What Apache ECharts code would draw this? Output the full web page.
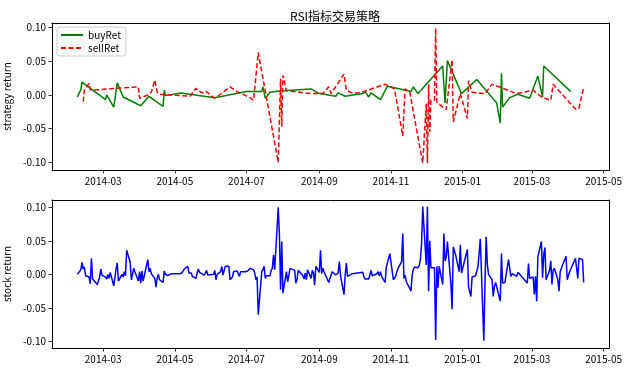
<!DOCTYPE html>
<html><head><meta charset="utf-8">
<script src="https://cdn.jsdelivr.net/npm/echarts@6/dist/echarts.min.js"></script>
<style>html,body{margin:0;padding:0;background:#fff}#c{width:628px;height:370px}</style>
</head><body><div id="c"></div>
<script>
// ---------------- data ----------------
const titleText = 'RSI指标交易策略';
const xTickLabels = ['2014-03','2014-05','2014-07','2014-09','2014-11','2015-01','2015-03','2015-05'];
const yTickLabels = [-0.10, -0.05, 0.00, 0.05, 0.10];

// trading calendar (Shanghai), first and last day + market holidays
const firstDay = '2014-02-07';
const lastDay = '2015-04-14';
const holidays = ['2014-04-07','2014-05-01','2014-05-02','2014-06-02','2014-09-08',
  '2014-10-01','2014-10-02','2014-10-03','2014-10-06','2014-10-07',
  '2015-01-01','2015-01-02','2015-02-18','2015-02-19','2015-02-20','2015-02-23','2015-02-24','2015-04-06'];

// daily stock return, one value per trading day (weeks on one line)
const stockRet = [
 0.000,
 0.007,0.018,0.008,0.011,-0.002,
 -0.004,-0.014,0.024,-0.007,-0.007,
 -0.015,-0.017,-0.004,0.008,-0.001,
 -0.004,-0.007,0.000,-0.006,0.003,
 -0.017,-0.005,0.008,0.017,-0.010,
 0.000,-0.004,0.004,-0.002,0.036,
 0.018,-0.008,0.000,0.009,0.004,
 -0.010,0.004,-0.013,0.005,-0.010,
 0.022,0.004,0.009,0.001,
 -0.006,-0.019,-0.005,0.000,-0.008,
 -0.012,0.005,0.000,0.002,-0.002,
 0.001,0.001,0.001,
 0.001,-0.001,0.002,0.005,0.008,
 0.012,0.002,0.004,0.002,-0.003,
 -0.006,0.002,0.008,0.003,0.004,
 -0.001,0.002,0.006,-0.001,0.001,
 0.000,0.006,-0.008,0.000,
 0.004,0.012,-0.001,0.006,0.012,
 0.012,-0.008,-0.007,-0.004,0.004,
 0.005,0.004,-0.003,0.004,0.004,
 0.004,0.002,0.005,0.004,0.009,
 0.007,0.002,-0.008,-0.004,-0.060,
 0.004,0.007,0.012,-0.006,-0.002,
 -0.002,0.006,0.009,0.029,0.007,
 0.100,0.060,-0.023,0.049,-0.028,
 0.004,-0.011,-0.002,0.009,0.008,
 0.006,-0.013,-0.008,0.006,0.006,
 -0.002,-0.007,0.002,-0.008,0.007,
 -0.006,0.006,0.002,-0.016,0.012,
 0.003,0.036,0.001,0.009,0.004,
 -0.012,-0.006,-0.001,0.004,
 -0.001,-0.002,0.002,0.019,-0.002,
 -0.030,-0.001,0.017,-0.003,-0.001,
 0.001,0.002,
 0.003,-0.004,-0.007,
 -0.007,-0.001,0.006,-0.002,-0.001,
 0.001,0.004,-0.002,0.004,-0.003,
 -0.012,0.011,0.013,0.024,0.031,
 -0.008,-0.006,-0.003,0.004,0.009,
 0.019,0.061,-0.006,-0.001,-0.011,
 -0.021,-0.025,-0.001,0.007,0.011,
 0.010,0.013,0.022,0.045,0.101,
 0.014,0.101,-0.025,0.050,0.010,
 0.010,-0.098,0.012,-0.020,0.012,
 -0.015,0.061,0.020,0.025,0.049,
 -0.015,-0.052,0.041,0.041,0.029,
 0.004,0.044,0.002,
 0.037,-0.019,-0.020,-0.033,-0.004,
 -0.002,-0.001,0.011,0.031,0.053,
 -0.099,-0.013,0.056,0.015,0.000,
 -0.008,-0.033,-0.018,-0.012,-0.010,
 -0.040,0.031,-0.013,-0.015,-0.012,
 0.022,0.010,-0.003,0.001,-0.001,
 -0.003,0.003,
 -0.013,0.016,-0.006,
 -0.004,-0.030,-0.003,-0.040,0.026,
 0.049,-0.005,0.030,0.040,-0.008,
 0.006,0.020,-0.015,0.006,0.009,
 -0.008,-0.025,0.004,0.004,0.014,
 0.027,-0.008,-0.008,0.004,0.003,
 0.024,0.024,-0.006,0.024,
 0.022,-0.012
];

const buyDates = ['2014-02-07','2014-02-10','2014-02-11','2014-03-03','2014-03-04','2014-03-10','2014-03-13','2014-03-18',
 '2014-04-02','2014-04-09','2014-04-21','2014-04-22','2014-04-23','2014-05-06','2014-06-04','2014-07-01','2014-07-14',
 '2014-07-15','2014-07-17','2014-07-21','2014-07-29','2014-08-25','2014-09-01','2014-09-05','2014-09-15','2014-09-17',
 '2014-09-23','2014-10-08','2014-10-10','2014-10-13','2014-10-15','2014-10-23','2014-10-29','2014-11-03','2014-11-18',
 '2014-11-20','2014-11-24','2014-12-15','2014-12-17','2014-12-19','2014-12-31','2015-01-13','2015-01-30','2015-02-02',
 '2015-02-03','2015-02-04','2015-02-10','2015-02-17','2015-02-27','2015-03-06','2015-03-10','2015-03-11','2015-04-03'];
const buyRet = [-0.003,0.008,0.019,-0.007,0.000,-0.018,0.018,-0.003,
 -0.016,-0.002,-0.017,0.007,-0.001,0.003,-0.004,0.005,0.005,
 0.012,-0.005,0.004,0.006,0.009,0.002,0.001,-0.002,0.003,
 -0.002,0.002,0.005,-0.003,0.003,-0.007,0.013,0.011,0.005,
 0.012,0.002,0.043,-0.012,0.051,0.002,0.023,-0.012,-0.042,
 0.032,-0.018,-0.004,0.001,-0.005,0.028,-0.003,0.043,0.005];

const sellDates = ['2014-02-12','2014-02-13','2014-02-17','2014-02-18','2014-02-20','2014-03-12','2014-03-31','2014-04-01',
 '2014-04-04','2014-04-08','2014-04-11','2014-04-14','2014-04-16','2014-04-18','2014-05-14','2014-05-19','2014-05-20',
 '2014-05-26','2014-05-28','2014-06-03','2014-06-05','2014-06-17','2014-06-23','2014-07-04','2014-07-07','2014-07-11',
 '2014-07-28','2014-07-30','2014-07-31','2014-08-01','2014-08-04','2014-08-26','2014-09-04','2014-09-09','2014-09-11',
 '2014-09-22','2014-09-24','2014-09-30','2014-10-09','2014-10-27','2014-11-04','2014-11-11','2014-11-13','2014-11-17',
 '2014-11-28','2014-12-01','2014-12-02','2014-12-03','2014-12-04','2014-12-05','2014-12-08','2014-12-09','2014-12-10',
 '2014-12-18','2014-12-23','2014-12-24','2014-12-30','2015-01-05','2015-01-06','2015-01-09','2015-01-20','2015-01-26',
 '2015-02-16','2015-03-02','2015-03-09','2015-03-17','2015-03-19','2015-04-07','2015-04-10','2015-04-14'];
const sellRet = [-0.010,0.007,0.017,0.008,0.007,0.010,0.012,-0.005,
 -0.003,0.000,0.004,0.022,0.004,0.001,-0.002,0.010,0.007,
 0.002,0.005,-0.004,-0.004,0.012,0.005,-0.004,-0.008,0.063,
 -0.100,0.024,-0.047,0.029,0.006,0.002,0.002,0.012,0.002,
 0.031,0.007,0.002,0.005,0.016,0.009,-0.061,0.009,0.004,
 -0.101,-0.013,-0.101,0.016,-0.055,-0.008,-0.008,0.099,-0.011,
 -0.022,0.052,-0.040,0.002,-0.035,0.021,0.004,0.002,0.016,
 0.002,0.007,-0.003,-0.008,0.016,-0.021,-0.020,0.012];

// ---------------- build ----------------
function parseD(s){const p=s.split('-');return new Date(+p[0],+p[1]-1,+p[2]).getTime();}
function fmt(t){const d=new Date(t);return d.getFullYear()+'-'+String(d.getMonth()+1).padStart(2,'0')+'-'+String(d.getDate()).padStart(2,'0');}
const hol = new Set(holidays);
const tradeDays = [];
for(let t=parseD(firstDay); t<=parseD(lastDay)+1; ){
  const d=new Date(t); const wd=d.getDay(); const s=fmt(t);
  if(wd!==0 && wd!==6 && !hol.has(s)) tradeDays.push(s);
  d.setDate(d.getDate()+1); t=d.getTime();
}
if(tradeDays.length!==stockRet.length) console.error('calendar mismatch', tradeDays.length, stockRet.length);

const stockData = stockRet.map((v,i)=>[parseD(tradeDays[i]), v]);
const buyData = buyDates.map((d,i)=>[parseD(d), buyRet[i]]);
const sellData = sellDates.map((d,i)=>[parseD(d), sellRet[i]]);

const FONT = '"Noto Sans CJK SC", "DejaVu Sans", sans-serif';
const xMin = new Date(2014,0,16,10,48).getTime();
const xMax = new Date(2015,4,5,13,12).getTime();
const xTicks = xTickLabels.map(s=>parseD(s+'-01'));
const AX = {color:'#000',width:1};

function xAxis(gi){
  return {type:'value', gridIndex:gi, min:xMin, max:xMax, position:'bottom',
    axisLine:{show:true,onZero:false,lineStyle:AX},
    axisTick:{show:true,inside:false,length:3.5,lineStyle:{color:'#000',width:0.8},customValues:xTicks},
    axisLabel:{color:'#000',fontSize:10,fontFamily:FONT,margin:6,customValues:xTicks,hideOverlap:false,
      formatter:function(v){const d=new Date(v);return d.getFullYear()+'-'+String(d.getMonth()+1).padStart(2,'0');}},
    splitLine:{show:false}};
}
function xBorder(gi){
  return {type:'value', gridIndex:gi, min:xMin, max:xMax, position:'top',
    axisLine:{show:true,onZero:false,lineStyle:AX},axisTick:{show:false},axisLabel:{show:false},splitLine:{show:false}};
}
function yAxis(gi,mn,mx,name){
  return {type:'value', gridIndex:gi, min:mn, max:mx, name:name, nameLocation:'middle', nameGap:37, position:'left',
    nameTextStyle:{color:'#000',fontSize:10,fontFamily:FONT},
    axisLine:{show:true,onZero:false,lineStyle:AX},
    axisTick:{show:true,inside:false,length:3.5,lineStyle:{color:'#000',width:0.8},customValues:yTickLabels},
    axisLabel:{color:'#000',fontSize:10,fontFamily:FONT,margin:6,customValues:yTickLabels,
      formatter:function(v){return v.toFixed(2);}},
    splitLine:{show:false}};
}
function yBorder(gi,mn,mx){
  return {type:'value', gridIndex:gi, min:mn, max:mx, position:'right',
    axisLine:{show:true,onZero:false,lineStyle:AX},axisTick:{show:false},axisLabel:{show:false},splitLine:{show:false}};
}

const chart = echarts.init(document.getElementById('c'), null, {renderer:'canvas'});
chart.setOption({
  animation:false,
  backgroundColor:'#fff',
  title:{text:titleText,left:330,top:5,textAlign:'center',
    textStyle:{fontSize:12,fontWeight:'normal',color:'#000',fontFamily:FONT}},
  legend:{data:['buyRet','sellRet'],orient:'vertical',left:57,top:27,itemWidth:22,itemHeight:10,itemGap:3,
    padding:[3,5,3,3],borderColor:'#ccc',borderWidth:1,borderRadius:3,backgroundColor:'rgba(255,255,255,0.8)',
    itemStyle:{opacity:0},
    textStyle:{fontSize:10,color:'#000',fontFamily:FONT}},
  grid:[
    {left:52,top:23,width:557,height:147,containLabel:false,outerBoundsMode:'none'},
    {left:52,top:200,width:557,height:148,containLabel:false,outerBoundsMode:'none'}
  ],
  xAxis:[xAxis(0),xAxis(1),xBorder(0),xBorder(1)],
  yAxis:[yAxis(0,-0.1114,0.1068,'strategy return'),yAxis(1,-0.1098,0.1109,'stock return'),
         yBorder(0,-0.1114,0.1068),yBorder(1,-0.1098,0.1109)],
  series:[
    {name:'buyRet',type:'line',xAxisIndex:0,yAxisIndex:0,data:buyData,symbol:'none',
      lineStyle:{color:'#008000',width:1.5},itemStyle:{color:'#008000'}},
    {name:'sellRet',type:'line',xAxisIndex:0,yAxisIndex:0,data:sellData,symbol:'none',
      lineStyle:{color:'#ff0000',width:1.5,type:[5,2.5]},itemStyle:{color:'#ff0000'}},
    {name:'stock',type:'line',xAxisIndex:1,yAxisIndex:1,data:stockData,symbol:'none',
      lineStyle:{color:'#0000ff',width:1.5},itemStyle:{color:'#0000ff'}}
  ]
});
</script></body></html>
